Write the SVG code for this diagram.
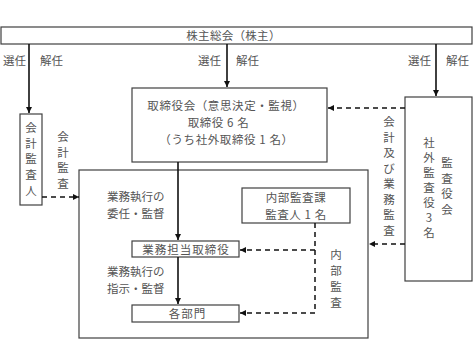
<svg xmlns="http://www.w3.org/2000/svg" width="473" height="340" viewBox="0 0 473 340">
<defs>
<style>
.box{fill:#fff;stroke:#404040;stroke-width:1.2}
.area{fill:none;stroke:#404040;stroke-width:1.2}
.t{font-family:"Noto Sans CJK JP","Noto Sans",sans-serif;font-size:11.5px;fill:#555}
.c{text-anchor:middle}
.ln{stroke:#111;stroke-width:1.6;fill:none}
.dl{stroke:#111;stroke-width:1.5;fill:none;stroke-dasharray:5 4}
</style>
<marker id="ah" viewBox="0 0 10 10" refX="10" refY="5" markerWidth="6" markerHeight="6" markerUnits="userSpaceOnUse" orient="auto">
<path d="M0,0 L10,5 L0,10 z" fill="#111"/>
</marker>
</defs>
<rect width="473" height="340" fill="#fff"/>

<g id="execution-area">
<rect class="area" x="79" y="170" width="289" height="168"/>
</g>

<g id="shareholders">
<rect class="box" x="1" y="27" width="471" height="17"/>
<text class="t c" x="233.5" y="39.5" letter-spacing="0.3">株主総会（株主）</text>
</g>

<g id="accounting-auditor">
<rect class="box" x="20" y="114" width="22" height="91"/>
<text class="t c"><tspan x="31" y="132">会</tspan><tspan x="31" y="147.5">計</tspan><tspan x="31" y="163">監</tspan><tspan x="31" y="179">査</tspan><tspan x="31" y="195">人</tspan></text>
</g>

<g id="board">
<rect class="box" x="132" y="88" width="195" height="74"/>
<text class="t c" x="226" y="109.5" letter-spacing="0.6">取締役会（意思決定・監視）</text>
<text class="t c" x="218.5" y="126.5" letter-spacing="0.6">取締役 6 名</text>
<text class="t c" x="226.5" y="143.5" letter-spacing="0.6">（うち社外取締役 1 名）</text>
</g>

<g id="audit-board">
<rect class="box" x="405" y="97" width="67" height="184"/>
<text class="t c"><tspan x="429" y="147">社</tspan><tspan x="429" y="162">外</tspan><tspan x="429" y="177">監</tspan><tspan x="429" y="192">査</tspan><tspan x="429" y="207">役</tspan><tspan x="429" y="222">3</tspan><tspan x="429" y="237">名</tspan></text>
<text class="t c"><tspan x="447" y="167">監</tspan><tspan x="447" y="182.5">査</tspan><tspan x="447" y="198">役</tspan><tspan x="447" y="213.5">会</tspan></text>
</g>

<g id="internal-audit">
<rect class="box" x="242" y="188" width="108" height="35"/>
<text class="t c" x="296" y="201.5" letter-spacing="0.6">内部監査課</text>
<text class="t c" x="296" y="218.5" letter-spacing="0.6">監査人 1 名</text>
</g>

<g id="executive-director">
<rect class="box" x="132" y="241" width="107" height="16"/>
<text class="t c" x="186" y="253.5" letter-spacing="1">業務担当取締役</text>
</g>

<g id="departments">
<rect class="box" x="132" y="305" width="107" height="17"/>
<text class="t c" x="187.5" y="317.5" letter-spacing="1">各部門</text>
</g>

<g id="connectors">
<line class="ln" x1="29" y1="44" x2="29" y2="113" marker-end="url(#ah)"/>
<line class="ln" x1="227" y1="44" x2="227" y2="87" marker-end="url(#ah)"/>
<line class="ln" x1="436" y1="44" x2="436" y2="96" marker-end="url(#ah)"/>
<line class="ln" x1="178" y1="162" x2="178" y2="240" marker-end="url(#ah)"/>
<line class="ln" x1="178" y1="257" x2="178" y2="304" marker-end="url(#ah)"/>
<line class="dl" x1="405" y1="108" x2="328" y2="108" marker-end="url(#ah)"/>
<line class="dl" x1="405" y1="244" x2="369" y2="244" marker-end="url(#ah)"/>
<line class="dl" x1="42" y1="197" x2="79" y2="197" marker-end="url(#ah)"/>
<polyline class="dl" points="315,223 315,313"/>
<line class="dl" x1="315" y1="250" x2="240" y2="250" marker-end="url(#ah)"/>
<line class="dl" x1="315" y1="313" x2="240" y2="313" marker-end="url(#ah)"/>
<g class="t">
<text x="3" y="65">選任</text><text x="40" y="65">解任</text>
<text x="198" y="65">選任</text><text x="236" y="65">解任</text>
<text x="408" y="65">選任</text><text x="446" y="65">解任</text>
<text class="c"><tspan x="63" y="141">会</tspan><tspan x="63" y="156.5">計</tspan><tspan x="63" y="172">監</tspan><tspan x="63" y="187.5">査</tspan></text>
<text class="c"><tspan x="389" y="126">会</tspan><tspan x="389" y="141.5">計</tspan><tspan x="389" y="157">及</tspan><tspan x="389" y="172.5">び</tspan><tspan x="389" y="188">業</tspan><tspan x="389" y="203.5">務</tspan><tspan x="389" y="219">監</tspan><tspan x="389" y="234.5">査</tspan></text>
<text x="107" y="201">業務執行の</text>
<text x="107" y="218">委任・監督</text>
<text x="107" y="276">業務執行の</text>
<text x="107" y="293">指示・監督</text>
<text class="c"><tspan x="336" y="259">内</tspan><tspan x="336" y="275">部</tspan><tspan x="336" y="291">監</tspan><tspan x="336" y="307">査</tspan></text>
</g>
</g>
</svg>
